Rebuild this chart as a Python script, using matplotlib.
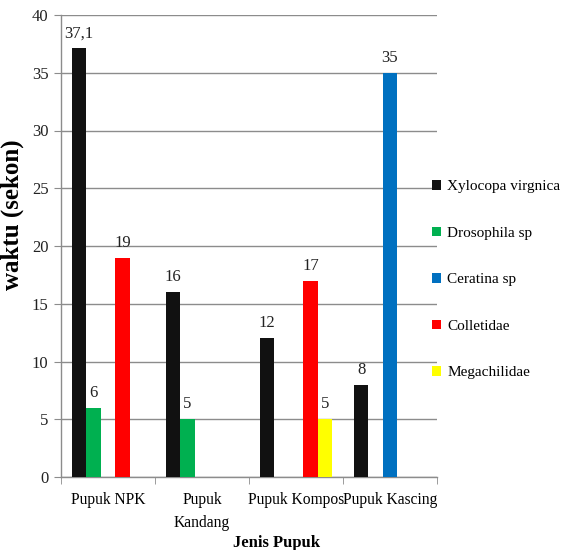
import matplotlib
matplotlib.use("Agg")
import matplotlib.pyplot as plt
from matplotlib.patches import Patch
import numpy as np

# Fertilizer treatments and visit duration per pollinator
categories = ["Pupuk NPK", "Pupuk\nKandang", "Pupuk Kompos", "Pupuk Kascing"]
series_names = ["Xylocopa virgnica", "Drosophila sp", "Ceratina sp", "Colletidae", "Megachilidae"]
xylocopa = [37.1, 16, 12, 8]
drosophila = [6, 5, 0, 0]
ceratina = [0, 0, 0, 35]
colletidae = [19, 0, 17, 0]
megachilidae = [0, 0, 5, 0]
series_values = [xylocopa, drosophila, ceratina, colletidae, megachilidae]
colors = ["#111111", "#00b050", "#0070c0", "#ff0000", "#ffff00"]
y_ticks = [0, 5, 10, 15, 20, 25, 30, 35, 40]

serif = ["Liberation Serif", "DejaVu Serif"]

fig = plt.figure(figsize=(5.63, 5.5), dpi=100)
ax = fig.add_axes([61 / 563, 73 / 550, 376 / 563, 462 / 550])

n_series = len(series_values)
width = 1 / 6.5
x = np.arange(len(categories))
for i, (vals, col) in enumerate(zip(series_values, colors)):
    pos = x + (i - (n_series - 1) / 2) * width
    bars = ax.bar(pos, vals, width=width, color=col, zorder=3)
    for b, v in zip(bars, vals):
        if v:
            txt = f"{v:g}".replace(".", ",")
            ax.annotate(txt, (b.get_x() + b.get_width() / 2, v),
                        xytext=(0, 5), textcoords="offset points",
                        ha="center", va="bottom", fontsize=12,
                        family=serif, color="#222222")

ax.set_xlim(-0.5, len(categories) - 0.5)
ax.set_ylim(0, 40)
ax.set_yticks(y_ticks)
ax.set_yticklabels([str(t) for t in y_ticks], family=serif, fontsize=12, color="#222222")
ax.yaxis.grid(True, color="#8c8c8c", linewidth=1.0, zorder=0)
ax.set_axisbelow(True)

ax.set_xticks(x)
ax.set_xticklabels(categories, family=serif, fontsize=11.2, va="top", linespacing=1.6)
ax.tick_params(axis="x", length=0, pad=11)
ax.set_xticks(np.arange(-0.5, len(categories)), minor=True)
ax.tick_params(axis="x", which="minor", length=5, color="#8c8c8c", direction="out")
ax.tick_params(axis="y", length=5, color="#8c8c8c", pad=4)

for s in ["top", "right"]:
    ax.spines[s].set_visible(False)
for s in ["left", "bottom"]:
    ax.spines[s].set_color("#8c8c8c")
    ax.spines[s].set_linewidth(1.0)

ax.set_ylabel("waktu (sekon)", family=serif, fontsize=18, fontweight="bold")
ax.yaxis.set_label_coords((24 - 61) / 376, (477 - 215) / 462)
fig.text(277 / 563, 1 - 543 / 550, "Jenis Pupuk", family=serif, fontsize=12,
         fontweight="bold", ha="center", va="center")

handles = [Patch(facecolor=c, edgecolor="none") for c in colors]
fig.legend(handles, series_names, loc="upper left", bbox_to_anchor=(432 / 563, 1 - 180 / 550),
           frameon=False, prop={"family": serif, "size": 11},
           handlelength=0.6, handleheight=0.6, handletextpad=0.4, labelspacing=2.18,
           borderaxespad=0, borderpad=0)

fig.savefig("out.png", dpi=100)
